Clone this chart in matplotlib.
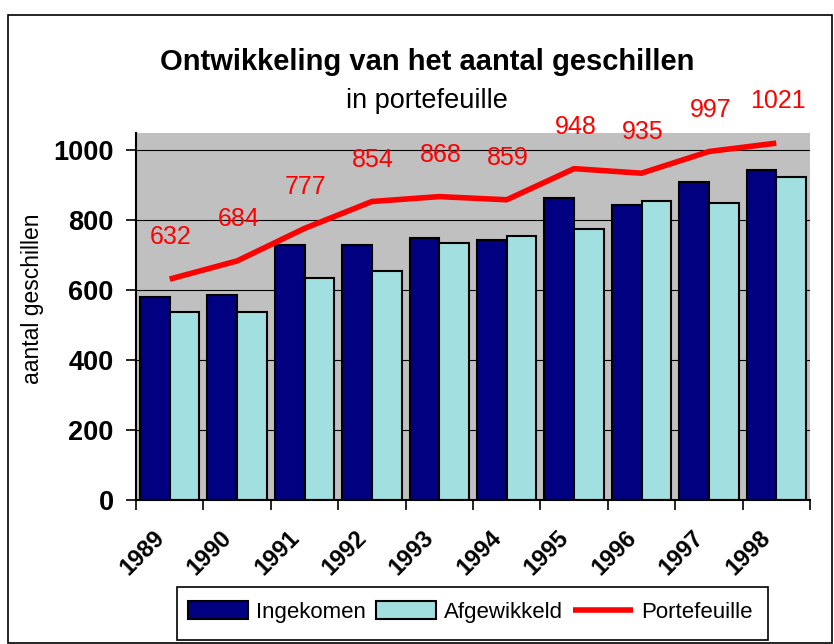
import numpy as np
import matplotlib
matplotlib.use("Agg")
import matplotlib.pyplot as plt
from matplotlib.patches import Rectangle
from matplotlib.transforms import ScaledTranslation

plt.rcParams['font.family'] = ['Liberation Sans', 'DejaVu Sans']

# gegevens
jaren = ['1989', '1990', '1991', '1992', '1993', '1994', '1995', '1996', '1997', '1998']
ingekomen = [582, 587, 729, 729, 749, 744, 863, 843, 910, 944]
afgewikkeld = [539, 538, 634, 654, 735, 755, 775, 856, 850, 924]
portefeuille = [632, 684, 777, 854, 868, 859, 948, 935, 997, 1021]

W, H = 834, 644
fig = plt.figure(figsize=(W / 100, H / 100), dpi=100)
ax = fig.add_axes([136 / W, 1 - 500 / H, (810 - 136) / W, (500 - 133) / H])

x = np.arange(len(jaren))
bw = 0.44
b1 = ax.bar(x - bw / 2, ingekomen, bw, color='#000080', edgecolor='black', linewidth=1.5,
            label='Ingekomen', zorder=2)
b2 = ax.bar(x + bw / 2, afgewikkeld, bw, color='#A2DFE0', edgecolor='black', linewidth=1.5,
            label='Afgewikkeld', zorder=2)
l1, = ax.plot(x, portefeuille, color='#FF0000', lw=4, solid_joinstyle='round',
              solid_capstyle='butt', label='Portefeuille', zorder=3)

for xi, v in zip(x, portefeuille):
    ax.annotate(str(v), (xi, v), xytext=(1, 30), textcoords='offset points',
                ha='center', va='center', color='#FF0000', fontsize=18)

ax.set_facecolor('#C0C0C0')
ax.set_xlim(-0.5, len(jaren) - 0.5)
ax.set_ylim(0, 1050)
ax.set_yticks(range(0, 1001, 200))
ax.yaxis.grid(True, color='black', lw=0.8)
ax.set_axisbelow(True)
ax.tick_params(axis='y', length=7, width=1.2, labelsize=19.5, pad=9)
for t in ax.get_yticklabels():
    t.set_fontweight('bold')

ax.set_xticks(x)
ax.set_xticklabels(jaren, rotation=45, ha='right', rotation_mode='anchor',
                   fontsize=17, fontweight='bold')
ax.tick_params(axis='x', which='major', length=0, pad=20)
schuif = ScaledTranslation(-0.17, 0.02, fig.dpi_scale_trans)
for t in ax.get_xticklabels():
    t.set_transform(t.get_transform() + schuif)
ax.set_xticks(np.arange(len(jaren) + 1) - 0.5, minor=True)
ax.tick_params(axis='x', which='minor', length=7, width=1.2)

for s in ['top', 'right']:
    ax.spines[s].set_visible(False)
ax.spines['left'].set_linewidth(1.5)
ax.spines['bottom'].set_linewidth(1.5)

ax.set_ylabel('aantal geschillen', fontsize=16.5)
ax.yaxis.set_label_coords((44 - 136) / (810 - 136), (500 - 299) / (500 - 133))

fig.text(427 / W, 1 - 62 / H, 'Ontwikkeling van het aantal geschillen',
         ha='center', va='center', fontsize=21, fontweight='bold')
fig.text(427 / W, 1 - 101 / H, 'in portefeuille', ha='center', va='center', fontsize=19.5)

leg = fig.legend(handles=[b1, b2, l1], loc='center', ncol=3,
                 bbox_to_anchor=(470 / W, 1 - 612 / H), fontsize=16,
                 handlelength=2.7, handleheight=0.86, columnspacing=0.45,
                 handletextpad=0.36, frameon=False, borderpad=0.3)

fig.patches.append(Rectangle((177 / W, 1 - 640 / H), (768 - 177) / W, 53 / H,
                             transform=fig.transFigure, fill=False,
                             edgecolor='black', lw=1.2))
fig.patches.append(Rectangle((8 / W, 0.002), (W - 10) / W, 1 - 15 / H - 0.002,
                             transform=fig.transFigure, fill=False,
                             edgecolor='black', lw=1.2))

fig.savefig('out.png', dpi=100)
